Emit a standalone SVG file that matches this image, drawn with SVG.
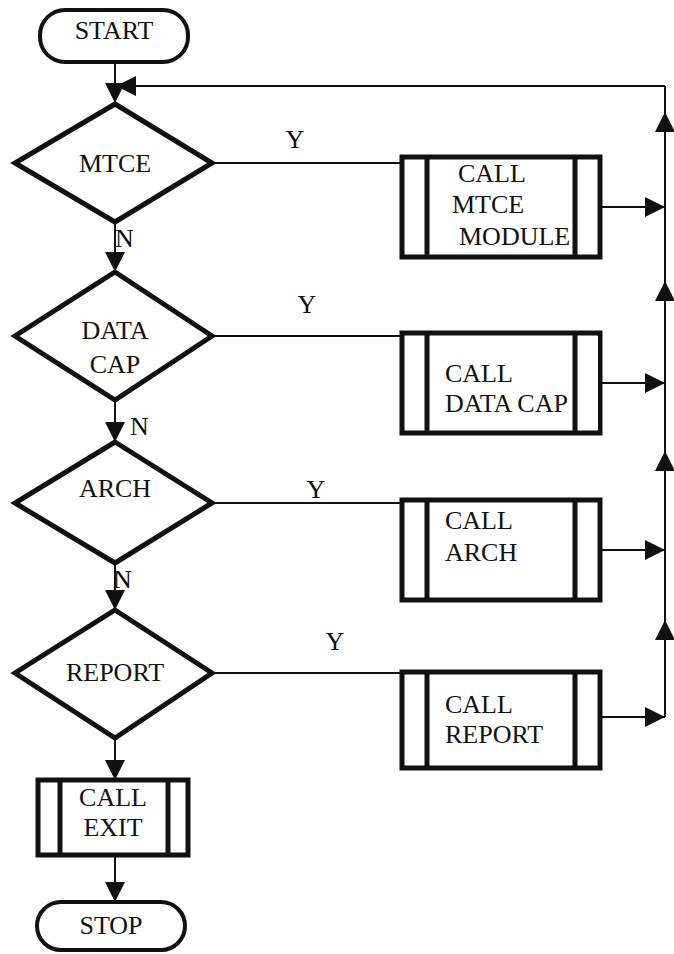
<svg xmlns="http://www.w3.org/2000/svg" width="674" height="954" viewBox="0 0 674 954">
<style>
text{font-family:"Liberation Serif","Times New Roman",serif;font-size:26px;fill:#111}
.c{text-anchor:middle}
.dia{fill:#fff;stroke:#111;stroke-width:5;stroke-linejoin:miter}
.box{fill:#fff;stroke:#111;stroke-width:5}
.bar{stroke:#111;stroke-width:5}
.term{fill:#fff;stroke:#111;stroke-width:4}
.ln{fill:none;stroke:#111;stroke-width:2}
.arr{fill:none;stroke:#111;stroke-width:2;marker-end:url(#ah)}
</style>
<defs>
<marker id="ah" viewBox="0 0 10 10" refX="10" refY="5" markerWidth="20" markerHeight="20" markerUnits="userSpaceOnUse" orient="auto">
<path d="M0,0 L10,5 L0,10 z" fill="#111"/>
</marker>
</defs>
<rect width="674" height="954" fill="#fff"/>
<g id="connectors">
<path class="arr" d="M115,62 V103"/>
<path class="ln" d="M665,717 V86"/>
<path class="arr" d="M665,207 V112"/>
<path class="arr" d="M665,383 V281"/>
<path class="arr" d="M665,550 V451"/>
<path class="arr" d="M665,717 V620"/>
<path class="arr" d="M665,86 H116"/>
<path class="arr" d="M115,222 V272"/>
<path class="arr" d="M115,400 V442"/>
<path class="arr" d="M115,563 V610"/>
<path class="arr" d="M115,738 V780"/>
<path class="arr" d="M115,855 V902"/>
<path class="ln" d="M212,163 H402"/>
<path class="ln" d="M212,336 H402"/>
<path class="ln" d="M212,503 H402"/>
<path class="ln" d="M212,673 H402"/>
<path class="arr" d="M600,207 H665"/>
<path class="arr" d="M600,383 H665"/>
<path class="arr" d="M600,550 H665"/>
<path class="arr" d="M600,717 H665"/>
<text x="295" y="148" class="c">Y</text>
<text x="307" y="313" class="c">Y</text>
<text x="316" y="498" class="c">Y</text>
<text x="335" y="650" class="c">Y</text>
<text x="115" y="247">N</text>
<text x="130" y="435">N</text>
<text x="113" y="588">N</text>
</g>
<g id="start">
<rect class="term" x="40" y="10" width="148" height="52" rx="25"/>
<text x="114" y="39" class="c">START</text>
</g>
<g id="mtce">
<polygon class="dia" points="115,104 212,163 115,222 15,163"/>
<text x="115" y="172" class="c">MTCE</text>
</g>
<g id="call-mtce">
<rect class="box" x="402" y="157" width="198" height="100"/>
<line class="bar" x1="427" y1="157" x2="427" y2="257"/>
<line class="bar" x1="575" y1="157" x2="575" y2="257"/>
<text x="458" y="182">CALL</text>
<text x="452" y="213">MTCE</text>
<text x="459" y="245">MODULE</text>
</g>
<g id="datacap">
<polygon class="dia" points="115,272 212,336 115,400 15,336"/>
<text x="115" y="339" class="c">DATA</text>
<text x="115" y="373" class="c">CAP</text>
</g>
<g id="call-datacap">
<rect class="box" x="402" y="333" width="198" height="100"/>
<text x="445" y="382">CALL</text>
<text x="445" y="412">DATA CAP</text>
<rect x="577" y="336" width="21" height="94" fill="#fff"/>
<line class="bar" x1="427" y1="333" x2="427" y2="433"/>
<line class="bar" x1="575" y1="333" x2="575" y2="433"/>
</g>
<g id="arch">
<polygon class="dia" points="115,442 212,503 115,563 15,503"/>
<text x="115" y="497" class="c">ARCH</text>
</g>
<g id="call-arch">
<rect class="box" x="402" y="500" width="198" height="100"/>
<line class="bar" x1="427" y1="500" x2="427" y2="600"/>
<line class="bar" x1="575" y1="500" x2="575" y2="600"/>
<text x="445" y="529">CALL</text>
<text x="445" y="561">ARCH</text>
</g>
<g id="report">
<polygon class="dia" points="115,610 212,673 115,738 15,673"/>
<text x="115" y="681" class="c">REPORT</text>
</g>
<g id="call-report">
<rect class="box" x="402" y="672" width="198" height="96"/>
<line class="bar" x1="427" y1="672" x2="427" y2="768"/>
<line class="bar" x1="575" y1="672" x2="575" y2="768"/>
<text x="445" y="713">CALL</text>
<text x="445" y="743">REPORT</text>
</g>
<g id="call-exit">
<rect class="box" x="38" y="780" width="150" height="75"/>
<line class="bar" x1="60" y1="780" x2="60" y2="855"/>
<line class="bar" x1="168" y1="780" x2="168" y2="855"/>
<text x="113" y="806" class="c">CALL</text>
<text x="113" y="836" class="c">EXIT</text>
</g>
<g id="stop">
<rect class="term" x="37" y="902" width="148" height="48" rx="24"/>
<text x="111" y="934" class="c">STOP</text>
</g>
</svg>
